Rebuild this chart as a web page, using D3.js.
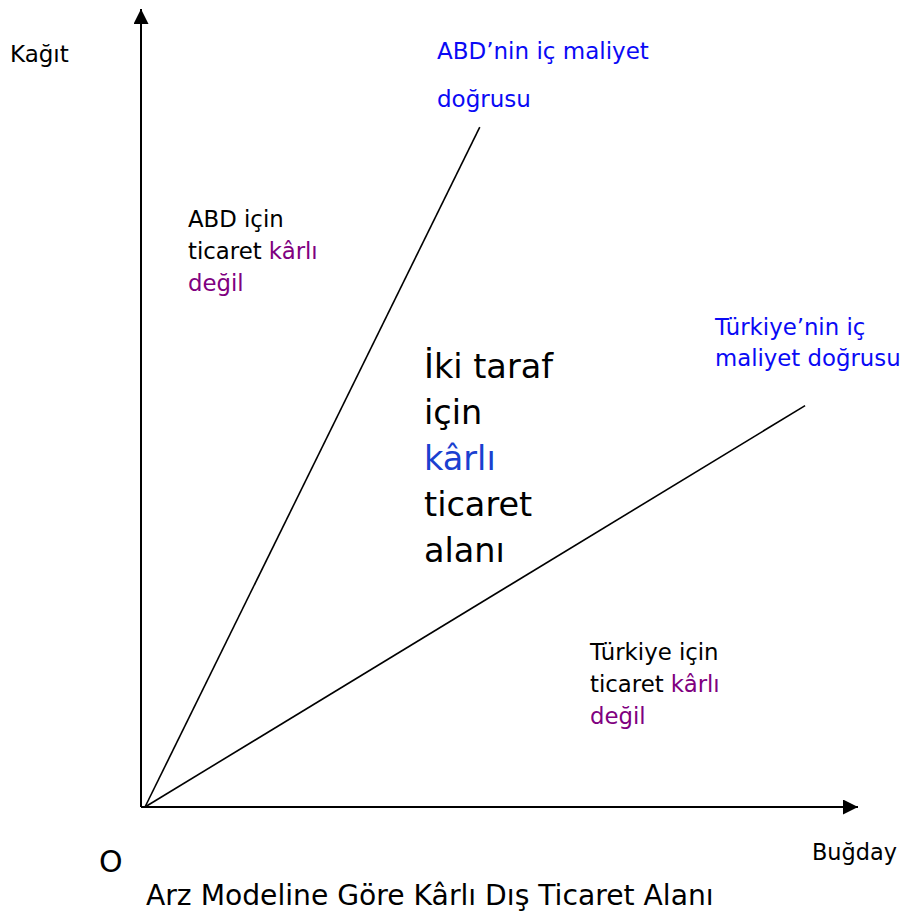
<!DOCTYPE html>
<html>
<head>
<meta charset="utf-8">
<script src="https://cdn.jsdelivr.net/npm/d3@7"></script>
<style>
  body { margin: 0; background: #fff; }
  text { font-family: "DejaVu Sans", Verdana, sans-serif; }
</style>
</head>
<body>
<svg id="chart"></svg>
<script>
// cost lines, in abstract units (Buğday on x, Kağıt on y)
const costLines = ["ABD", "Türkiye"];
const lineEndX = [4.71, 9.26];
const lineEndY = [8.52, 5.03];

const axisLabels = ["Buğday", "Kağıt", "O"];
const titleText = "Arz Modeline Göre Kârlı Dış Ticaret Alanı";

// text blocks: each line is a list of [text, colorKey]
const usaLineLabel = [["ABD’nin iç maliyet"], ["doğrusu"]];
const trLineLabel = [["Türkiye’nin iç"], ["maliyet doğrusu"]];
const usaNotProfit = [[["ABD için", "k"]], [["ticaret ", "k"], ["kârlı", "p"]], [["değil", "p"]]];
const trNotProfit = [[["Türkiye için", "k"]], [["ticaret ", "k"], ["kârlı", "p"]], [["değil", "p"]]];
const bothProfit = [[["İki taraf", "k"]], [["için", "k"]], [["kârlı", "b"]], [["ticaret", "k"]], [["alanı", "k"]]];

const colors = { k: "#000", p: "#800080", b: "#1a40d0", blue: "#0a0af5" };

const width = 904, height = 915;
const svg = d3.select("#chart")
    .attr("width", width)
    .attr("height", height);

const x = d3.scaleLinear().domain([0, 10]).range([143, 858]);
const y = d3.scaleLinear().domain([0, 10]).range([807, 9]);

svg.append("defs").append("marker")
    .attr("id", "arrow")
    .attr("viewBox", "0 0 10 10")
    .attr("refX", 10)
    .attr("refY", 5)
    .attr("markerWidth", 15)
    .attr("markerHeight", 15)
    .attr("markerUnits", "userSpaceOnUse")
    .attr("orient", "auto")
    .append("path")
    .attr("d", "M0,0 L10,5 L0,10 Z")
    .attr("fill", "#000");

// axes
svg.append("line")
    .attr("x1", x(0) - 2).attr("y1", y(0))
    .attr("x2", x(10)).attr("y2", y(0))
    .attr("stroke", "#000").attr("stroke-width", 2)
    .attr("marker-end", "url(#arrow)");

svg.append("line")
    .attr("x1", x(0) - 2).attr("y1", y(0))
    .attr("x2", x(0) - 2).attr("y2", y(10))
    .attr("stroke", "#000").attr("stroke-width", 2)
    .attr("marker-end", "url(#arrow)");

// cost lines
svg.selectAll(".cost")
    .data(costLines)
    .enter()
    .append("line")
    .attr("class", "cost")
    .attr("x1", x(0) + 2).attr("y1", y(0))
    .attr("x2", (d, i) => x(lineEndX[i]))
    .attr("y2", (d, i) => y(lineEndY[i]))
    .attr("stroke", "#000")
    .attr("stroke-width", 1.6);

function block(lines, x0, y0, lh, size, defColor) {
    const t = svg.append("text")
        .attr("x", x0).attr("y", y0)
        .attr("font-size", size);
    lines.forEach((ln, i) => {
        const parts = Array.isArray(ln[0]) ? ln : [[ln[0], null]];
        parts.forEach((p, j) => {
            const ts = t.append("tspan")
                .attr("fill", p[1] ? colors[p[1]] : defColor)
                .text(p[0]);
            if (j === 0) ts.attr("x", x0).attr("dy", i === 0 ? 0 : lh);
        });
    });
    return t;
}

block(usaLineLabel, 437, 59, 48, 23, colors.blue);
block(trLineLabel, 715, 335, 31, 22.8, colors.blue);
block(usaNotProfit, 188, 227, 32, 22.8, "#000");
block(trNotProfit, 590, 660, 32, 22.8, "#000");
block(bothProfit, 424, 378, 46, 33.5, "#000");

svg.append("text").attr("x", 10).attr("y", 62).attr("font-size", 23).text(axisLabels[1]);
svg.append("text").attr("x", 812).attr("y", 860).attr("font-size", 22.4).text(axisLabels[0]);
svg.append("text").attr("x", 99).attr("y", 872).attr("font-size", 30).text(axisLabels[2]);
svg.append("text").attr("x", 146).attr("y", 905).attr("font-size", 28.2).text(titleText);
</script>
</body>
</html>
